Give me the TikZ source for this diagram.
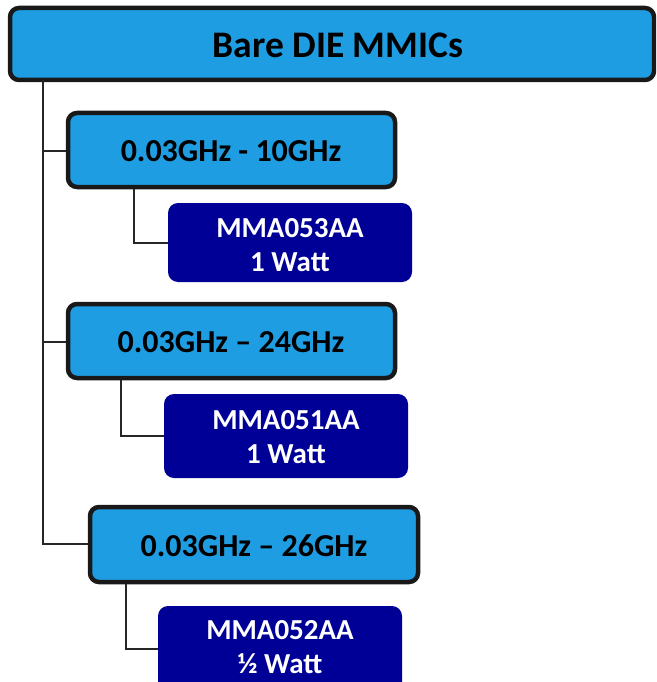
\documentclass[tikz,border=0pt]{standalone}
\usepackage{fontspec}
\setmainfont{Carlito}
\definecolor{lightb}{HTML}{1F9DE2}
\definecolor{navyb}{HTML}{000096}
\begin{document}
\begin{tikzpicture}[x=1pt,y=-1pt,
  catbox/.style={draw=black!90,line width=4.5pt,fill=lightb,rounded corners=9pt,
    font=\fontsize{32}{38}\selectfont\bfseries,text=black},
  partbox/.style={fill=navyb,rounded corners=10pt,text=white,align=center,
    font=\fontsize{29}{34}\selectfont\bfseries},
  conn/.style={line width=1.3pt,draw=black!85}]
\useasboundingbox (0,0) rectangle (656,682);
\clip (0,0) rectangle (656,682);
% top
\draw[catbox] (10,8) rectangle (654,80);
\node[font=\fontsize{37.5}{42}\selectfont\bfseries] (top) at (338,45) {Bare DIE MMICs};
\coordinate (topb) at (43,80);
% level 2
\draw[catbox] (68,113) rectangle (395,187);
\node[catbox,draw=none,fill=none] (c1) at (231,151) {0.03GHz - 10GHz};
\draw[catbox] (68,304) rectangle (395,378);
\node[catbox,draw=none,fill=none] (c2) at (231,342) {0.03GHz – 24GHz};
\draw[catbox] (90,507) rectangle (418,582);
\node[catbox,draw=none,fill=none] (c3) at (254,546) {0.03GHz – 26GHz};
% parts
\fill[navyb,rounded corners=10pt] (168,203) rectangle (412,282);
\node[partbox,fill=none] (p1) at (290,245) {MMA053AA\\1 Watt};
\fill[navyb,rounded corners=10pt] (164,394) rectangle (408,478);
\node[partbox,fill=none] (p2) at (286,437) {MMA051AA\\1 Watt};
\fill[navyb,rounded corners=10pt] (158,606) rectangle (402,700);
\node[partbox,fill=none] (p3) at (280,647) {MMA052AA\\½ Watt};
% connectors
\coordinate (c1l) at (66,151);
\coordinate (c2l) at (66,342);
\coordinate (c3l) at (88,544);
\draw[conn] (topb) -- (43,544) -- (c3l);
\draw[conn] (43,151) -- (c1l);
\draw[conn] (43,342) -- (c2l);
\coordinate (c1b) at (134,189);
\coordinate (p1l) at (168,243);
\coordinate (c2b) at (121,380);
\coordinate (p2l) at (164,436);
\coordinate (c3b) at (126,584);
\coordinate (p3l) at (158,649);
\draw[conn] (c1b) |- (p1l);
\draw[conn] (c2b) |- (p2l);
\draw[conn] (c3b) |- (p3l);
\end{tikzpicture}
\end{document}
